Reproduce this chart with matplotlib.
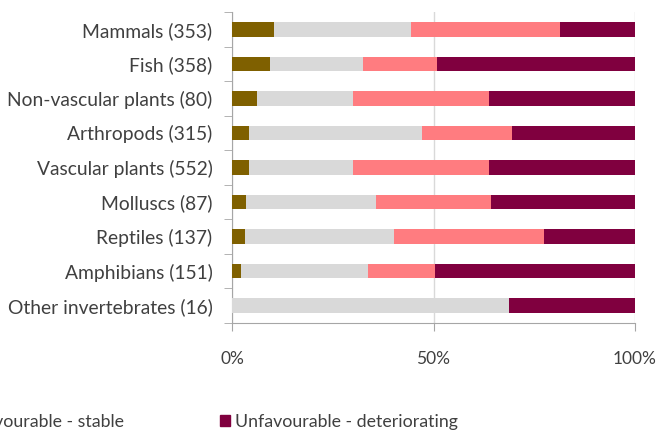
import numpy as np
import matplotlib.pyplot as plt
from matplotlib.patches import Patch
from matplotlib.ticker import FuncFormatter

plt.rcParams['font.family'] = ['Lato', 'DejaVu Sans']

# groups (top to bottom) and share of each trend class, in %
groups = ['Mammals (353)', 'Fish (358)', 'Non-vascular plants (80)', 'Arthropods (315)',
          'Vascular plants (552)', 'Molluscs (87)', 'Reptiles (137)', 'Amphibians (151)',
          'Other invertebrates (16)']
improving = [10.4, 9.5, 6.25, 4.3, 4.1, 3.45, 3.1, 2.2, 0.0]
unknown = [34.1, 22.9, 23.75, 42.8, 25.8, 32.2, 37.1, 31.6, 68.75]
stable = [36.9, 18.4, 33.75, 22.4, 33.9, 28.7, 37.1, 16.5, 0.0]
deteriorating = [18.6, 49.2, 36.25, 30.5, 36.2, 35.65, 22.7, 49.7, 31.25]

series = [improving, unknown, stable, deteriorating]
colors = ['#7f6000', '#d9d9d9', '#ff7c80', '#80003f']
# only the last two legend entries fit inside the cropped image
legend_names = ['Unfavourable - stable', 'Unfavourable - deteriorating']
txt = '#404040'

fig = plt.figure(figsize=(6.62, 4.32), dpi=100)
ax = fig.add_axes([0.3505, 0.2523, 0.6087, 0.7199])

y = np.arange(len(groups))
left = np.zeros(len(groups))
for vals, c in zip(series, colors):
    ax.barh(y, vals, left=left, height=0.42, color=c, zorder=3)
    left += np.array(vals)

ax.set_xlim(0, 100)
ax.set_ylim(len(groups) - 0.5, -0.5)
ax.set_xticks([0, 50, 100])
ax.xaxis.set_major_formatter(FuncFormatter(lambda v, p: f'{v:.0f}%'))
ax.set_yticks(y)
ax.set_yticklabels(groups)
ax.set_yticks(np.arange(len(groups) + 1) - 0.5, minor=True)
ax.grid(axis='x', color='#d9d9d9', lw=1, zorder=0)

for s in ['top', 'right']:
    ax.spines[s].set_visible(False)
for s in ['left', 'bottom']:
    ax.spines[s].set_color('#a6a6a6')
ax.tick_params(axis='y', which='major', length=0, pad=14, labelsize=13.9, labelcolor=txt)
ax.tick_params(axis='y', which='minor', length=6, color='#a6a6a6')
ax.tick_params(axis='x', length=6, color='#a6a6a6', pad=14, labelsize=12.5, labelcolor=txt)

handles = [Patch(color=c) for c in colors[2:]]
fig.legend(handles, legend_names, loc='center left', bbox_to_anchor=(-0.089, 0.023),
           ncol=2, frameon=False, fontsize=12.8, handlelength=0.56, handleheight=0.56,
           handletextpad=0.28, columnspacing=5.4, borderaxespad=0, borderpad=0,
           labelcolor=txt)

fig.savefig('out.png', dpi=100)
